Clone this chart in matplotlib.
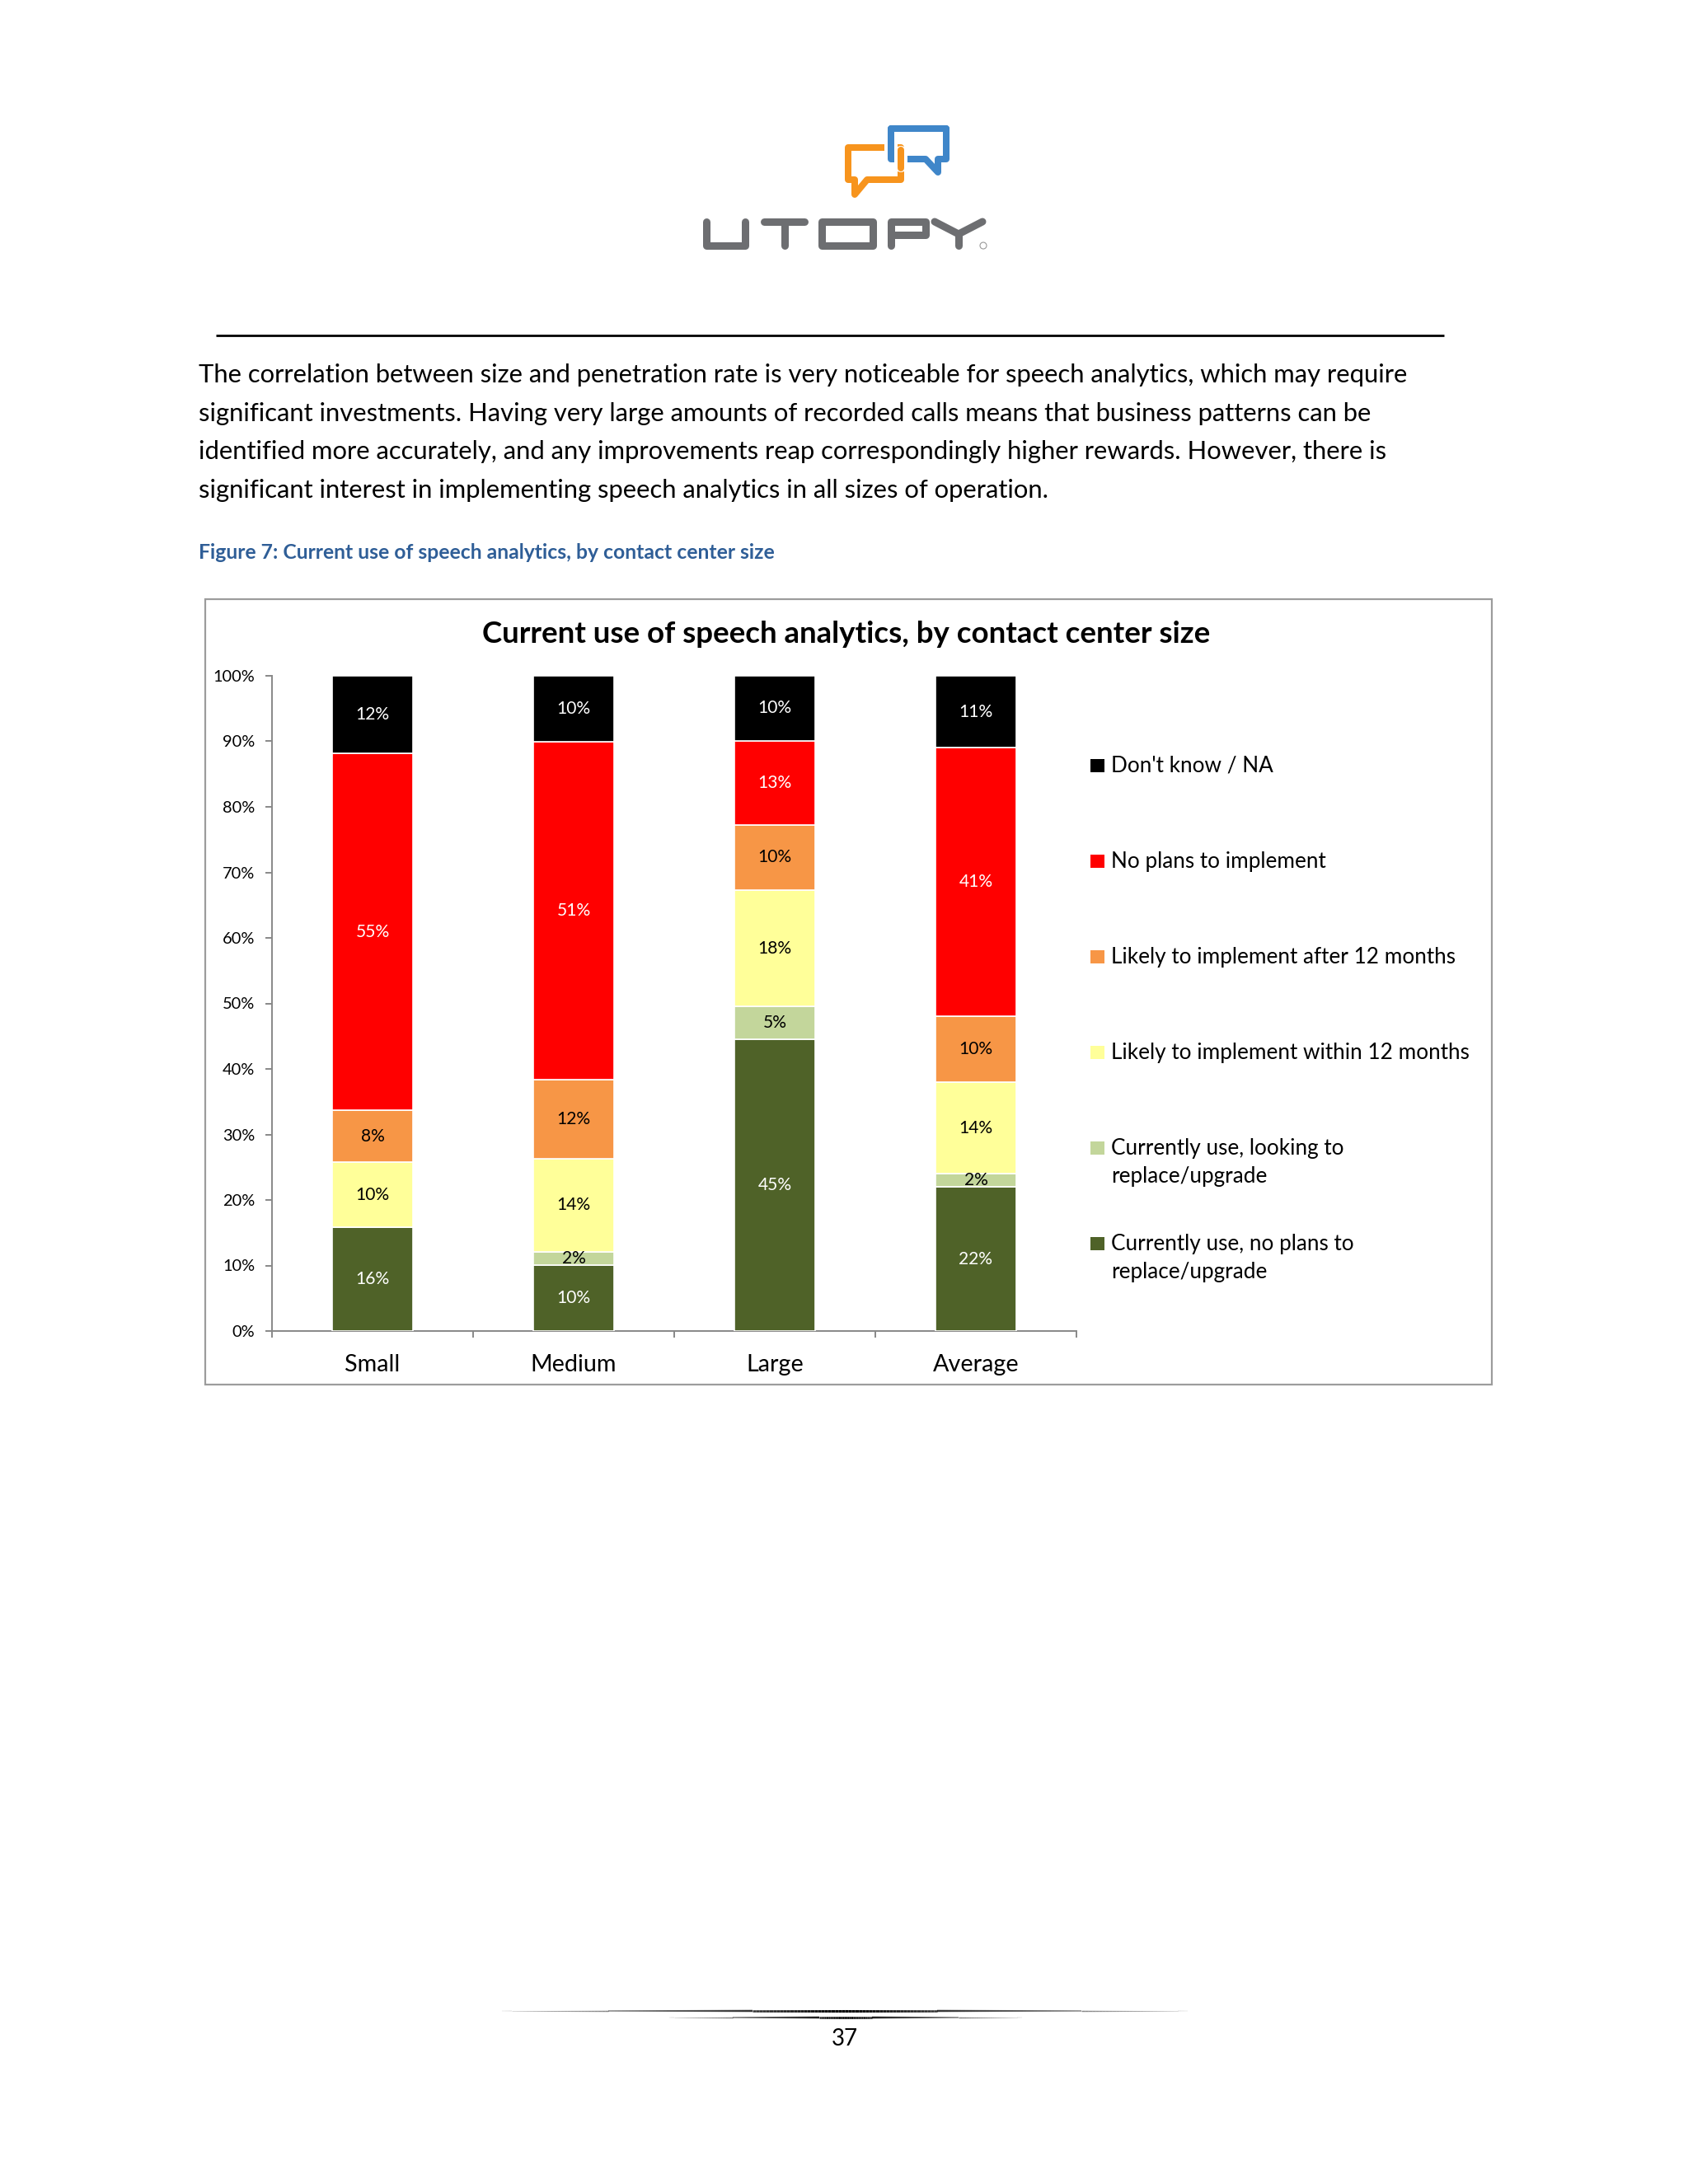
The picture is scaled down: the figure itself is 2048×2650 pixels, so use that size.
import matplotlib
matplotlib.use("Agg")
import matplotlib.pyplot as plt
import numpy as np
from matplotlib.patches import Rectangle, PathPatch
from matplotlib.path import Path
from matplotlib.collections import LineCollection

# ---------------- data ----------------
categories = ["Small", "Medium", "Large", "Average"]
series_names = [
    "Currently use, no plans to\nreplace/upgrade",
    "Currently use, looking to\nreplace/upgrade",
    "Likely to implement within 12 months",
    "Likely to implement after 12 months",
    "No plans to implement",
    "Don't know / NA",
]
use_no_plans = [16, 10, 45, 22]
use_looking = [0, 2, 5, 2]
within_12 = [10, 14, 18, 14]
after_12 = [8, 12, 10, 10]
no_plans = [55, 51, 13, 41]
dont_know = [12, 10, 10, 11]
series_values = [use_no_plans, use_looking, within_12, after_12, no_plans, dont_know]
series_colors = ["#4F6228", "#C3D69B", "#FFFF99", "#F79646", "#FF0000", "#000000"]
label_colors = ["white", "black", "black", "black", "white", "white"]
ytick_vals = [0, 0.1, 0.2, 0.3, 0.4, 0.5, 0.6, 0.7, 0.8, 0.9, 1.0]
ytick_labels = ["0%", "10%", "20%", "30%", "40%", "50%", "60%", "70%", "80%", "90%", "100%"]

paragraph = [
    "The correlation between size and penetration rate is very noticeable for speech analytics, which may require",
    "significant investments. Having very large amounts of recorded calls means that business patterns can be",
    "identified more accurately, and any improvements reap correspondingly higher rewards. However, there is",
    "significant interest in implementing speech analytics in all sizes of operation.",
]
caption = "Figure 7: Current use of speech analytics, by contact center size"
chart_title = "Current use of speech analytics, by contact center size"
page_number = "37"

# ---------------- page ----------------
W, H = 2048, 2650
FONT = "Lato"
fig = plt.figure(figsize=(W / 100, H / 100), dpi=100)
page = fig.add_axes([0, 0, 1, 1])
page.set_xlim(0, W)
page.set_ylim(H, 0)
page.axis("off")
renderer = fig.canvas.get_renderer()


def fit(s, target, base=20, **kw):
    t = page.text(0, 0, s, fontsize=base, **kw)
    w = t.get_window_extent(renderer).width
    t.remove()
    return base * target / w


def stroke(pts, color, lw_px, closed=False, z=3):
    pts = list(pts)
    codes = [Path.MOVETO] + [Path.LINETO] * (len(pts) - 1)
    if closed:
        pts.append(pts[0])
        codes.append(Path.CLOSEPOLY)
    page.add_patch(PathPatch(Path(pts, codes), fill=False, edgecolor=color,
                             lw=lw_px * 0.72, capstyle="round", joinstyle="round", zorder=z))


# logo: speech bubbles
ORANGE, BLUE, GRAY = "#F7941D", "#3F86C9", "#6D6E71"
orange_pts = [(1052, 218), (1093, 218), (1093, 179), (1029, 179), (1029, 218),
              (1037, 218), (1037, 236), (1052, 218)]
blue_pts = [(1123, 193), (1081, 193), (1081, 156), (1148, 156), (1148, 193),
            (1138, 193), (1138, 209), (1123, 193)]
stroke(orange_pts, ORANGE, 8, closed=True, z=3)
stroke(blue_pts, "white", 16, closed=True, z=4)
stroke(blue_pts, BLUE, 8, closed=True, z=5)
stroke([(1093, 185), (1093, 201)], "white", 16, z=6)
stroke([(1093, 182), (1093, 204)], ORANGE, 8, z=7)
stroke(blue_pts[2:4], BLUE, 8, z=8)

# logo: UTOPY letters
lw_l = 9
stroke([(857, 269), (857, 298), (904, 298), (904, 269)], GRAY, lw_l)
stroke([(927, 269), (976, 269)], GRAY, lw_l)
stroke([(951.5, 269), (951.5, 298)], GRAY, lw_l)
stroke([(997, 269), (1059, 269), (1059, 298), (997, 298)], GRAY, lw_l, closed=True)
stroke([(1081, 298), (1081, 269), (1123, 269), (1123, 285), (1081, 285)], GRAY, lw_l)
stroke([(1134, 269), (1163, 284), (1192, 269)], GRAY, lw_l)
stroke([(1163, 284), (1163, 298)], GRAY, lw_l)
page.add_patch(plt.Circle((1193, 298), 4, fill=False, edgecolor="#9A9A9A", lw=0.8))

# horizontal rule
page.plot([262, 1752], [407, 407], color="black", lw=2.0, solid_capstyle="butt")

# paragraph
fs_body = fit(paragraph[0], 1474, family=FONT)
for i, line in enumerate(paragraph):
    page.text(241, 464 + i * 46.6, line, fontsize=fs_body, family=FONT, va="baseline", ha="left")

# caption
fs_cap = fit(caption, 700, family=FONT, weight="bold")
page.text(241, 678, caption, fontsize=fs_cap, family=FONT, weight="bold",
          color="#2F5E97", va="baseline", ha="left")

# chart border
page.add_patch(Rectangle((249, 727), 1810 - 249, 1680 - 727, fill=False,
                         edgecolor="#9C9C9C", lw=1.6))

# chart title
fs_title = fit(chart_title, 885, family=FONT, weight="bold")
page.text(1027, 780, chart_title, fontsize=fs_title, family=FONT, weight="bold",
          ha="center", va="baseline")

# ---------------- chart ----------------
ax = fig.add_axes([330 / W, 1 - 1615 / H, (1306 - 330) / W, (1615 - 820) / H])
ax.set_facecolor("none")
ax.set_xlim(-0.5, 3.5)
ax.set_ylim(0, 1)
x = np.arange(len(categories))
vals = np.array(series_values, dtype=float)
shares = vals / vals.sum(axis=0)
bottom = np.zeros(len(categories))
fs_dl = fit("12%", 41, family=FONT)
for k in range(len(series_values)):
    ax.bar(x, shares[k], 0.40, bottom=bottom, color=series_colors[k],
           edgecolor="white", linewidth=1.2, zorder=3)
    for j in range(len(categories)):
        if vals[k, j] > 0:
            ax.text(x[j], bottom[j] + shares[k, j] / 2, f"{int(vals[k, j])}%",
                    ha="center", va="center", fontsize=fs_dl, family=FONT,
                    color=label_colors[k], zorder=4)
    bottom += shares[k]

for sp in ["top", "right"]:
    ax.spines[sp].set_visible(False)
for sp in ["left", "bottom"]:
    ax.spines[sp].set_color("#888888")
    ax.spines[sp].set_linewidth(1.4)

fs_tick = fit("100%", 51, family=FONT)
ax.set_yticks(ytick_vals)
ax.set_yticklabels(ytick_labels, family=FONT, fontsize=fs_tick)
ax.tick_params(axis="y", direction="out", length=5.8, width=1.4, color="#888888", pad=9)

fs_cat = fit("Medium", 105, family=FONT)
ax.set_xticks(x)
ax.set_xticklabels(categories, family=FONT, fontsize=fs_cat)
ax.tick_params(axis="x", which="major", length=0, pad=20)
ax.set_xticks(np.arange(-0.5, len(categories), 1.0), minor=True)
ax.tick_params(axis="x", which="minor", direction="out", length=6, width=1.4, color="#888888")

# legend (top to bottom = reverse of stacking)
fs_leg = fit("Likely to implement within 12 months", 435, family=FONT)
row_y = [929, 1045, 1161, 1277, 1393, 1509]
for r, k in enumerate(range(len(series_names) - 1, -1, -1)):
    y0 = row_y[r]
    page.add_patch(Rectangle((1323, y0 - 8), 17, 16, facecolor=series_colors[k],
                             edgecolor="none"))
    for li, line in enumerate(series_names[k].split("\n")):
        page.text(1348, y0 + li * 34, line, fontsize=fs_leg, family=FONT,
                  ha="left", va="center")

# ---------------- footer ----------------
def tapered(x0, x1, y, maxw, n=200):
    xs = np.linspace(x0, x1, n + 1)
    segs = [[(xs[i], y), (xs[i + 1], y)] for i in range(n)]
    mid = (xs[:-1] + xs[1:]) / 2
    t = 1 - np.abs((mid - (x0 + x1) / 2) / ((x1 - x0) / 2))
    widths = 0.2 + maxw * t ** 0.7
    cols = [(0, 0, 0, 0.25 + 0.75 * v) for v in t]
    page.add_collection(LineCollection(segs, linewidths=widths, colors=cols, capstyle="butt"))

tapered(609, 1441, 2440, 2.0)
tapered(812, 1240, 2448, 1.8)
fs_pn = fit(page_number, 32, family=FONT)
page.text(1025, 2482, page_number, fontsize=fs_pn, family=FONT, ha="center", va="baseline")

fig.savefig("out.png", dpi=100, facecolor="white")
